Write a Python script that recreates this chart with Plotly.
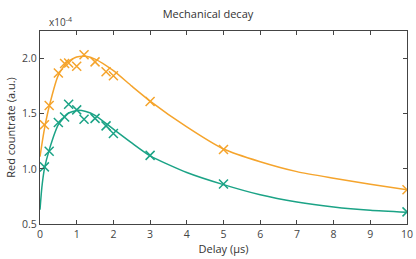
import plotly.graph_objects as go

# Measured data (delay in µs, countrate in 1e-4 a.u.)
delay = [0.12, 0.25, 0.5, 0.67, 0.78, 1.0, 1.2, 1.5, 1.8, 2.0, 3.0, 5.0, 10.0]
orange_y = [1.40, 1.575, 1.87, 1.955, 1.96, 1.93, 2.035, 1.97, 1.88, 1.845, 1.61, 1.176, 0.81]
teal_y = [1.018, 1.16, 1.42, 1.47, 1.585, 1.535, 1.45, 1.458, 1.39, 1.32, 1.122, 0.863, 0.61]

# Fit curves
fit_x = [0, 0.05, 0.12, 0.25, 0.5, 0.75, 1.0, 1.25, 1.5, 2.0, 2.5, 3, 4, 5, 6, 7, 8, 9, 10]
orange_fit = [1.11, 1.22, 1.36, 1.565, 1.85, 1.97, 2.015, 2.02, 1.995, 1.89, 1.75, 1.615, 1.38, 1.18, 1.065, 0.975, 0.915, 0.86, 0.81]
teal_fit = [0.63, 0.83, 1.0, 1.17, 1.40, 1.50, 1.53, 1.52, 1.485, 1.36, 1.235, 1.118, 0.967, 0.857, 0.765, 0.70, 0.655, 0.625, 0.607]

ORANGE = "#F5A42C"
TEAL = "#1BA386"

fig = go.Figure()
for fy, col in [(orange_fit, ORANGE), (teal_fit, TEAL)]:
    fig.add_trace(go.Scatter(x=fit_x, y=fy, mode="lines",
                             line=dict(color=col, width=1.5, shape="spline", smoothing=0.6),
                             showlegend=False, hoverinfo="skip"))
for yy, col in [(orange_y, ORANGE), (teal_y, TEAL)]:
    fig.add_trace(go.Scatter(x=delay, y=yy, mode="markers",
                             marker=dict(symbol="x-thin", size=9, line=dict(color=col, width=1.5)),
                             showlegend=False))

axis_common = dict(showline=True, linecolor="#444", linewidth=1.3, mirror="ticks",
                   ticks="inside", ticklen=4, tickcolor="#444", tickwidth=1,
                   showgrid=False, zeroline=False, automargin=False,
                   tickfont=dict(size=10.5, color="#444", family="Open Sans"))

fig.update_xaxes(range=[0, 10], dtick=1, tick0=0,
                 title=dict(text="Delay (μs)", font=dict(size=11, color="#333", family="Open Sans"), standoff=2),
                 **axis_common)
fig.update_yaxes(range=[0.5, 2.25], tickvals=[0.5, 1.0, 1.5, 2.0], ticktext=["0.5", "1.0", "1.5", "2.0"],
                 title=dict(text="Red countrate (a.u.)", font=dict(size=11, color="#333", family="Open Sans"), standoff=4),
                 **axis_common)

fig.update_layout(
    width=416, height=259,
    margin=dict(l=40, r=9, t=31, b=35),
    paper_bgcolor="white", plot_bgcolor="white",
    title=dict(text="Mechanical decay", x=0.5, xanchor="center", y=0.945, yanchor="middle",
               font=dict(size=11, color="#333", family="Open Sans")),
    annotations=[dict(text="x10<sup>-4</sup>", xref="paper", yref="paper", x=0.02, y=1.0,
                      xanchor="left", yanchor="bottom", showarrow=False,
                      font=dict(size=10, color="#444", family="Open Sans"))],
)

fig.write_html("out.html", config={"displayModeBar": False},
               post_script="document.body.style.margin='0';document.body.style.overflow='hidden';")
